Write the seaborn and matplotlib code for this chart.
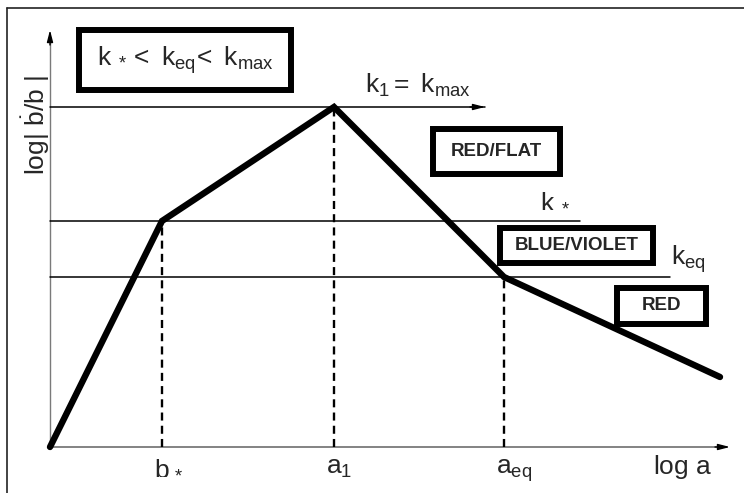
"""
Schematic: growth rate log|b'/b| against log a, with the three regimes
"""
import matplotlib
matplotlib.use("Agg")
import matplotlib.pyplot as plt
from matplotlib.patches import Rectangle
from matplotlib.lines import Line2D
import seaborn as sns

# broken line (arbitrary log units)
log_a = [0.0, 1.12, 2.84, 4.54, 6.70]
log_rate = [0.0, 2.26, 3.40, 1.70, 0.70]

# horizontal levels and where they stop
level_names = ["k_max", "k_star", "k_eq"]
level_values = [3.40, 2.26, 1.70]
level_ends = [4.35, 5.30, 6.20]

# break points marked on the x axis
tick_pos = [1.12, 2.84, 4.54]
tick_labels = [r"$\mathrm{b_{\,*}}$", r"$\mathrm{a_{1}}$", r"$\mathrm{a_{eq}}$"]

x_axis_end = 6.80
y_axis_end = 4.17

sns.set_style("white")
plt.rcParams["font.family"] = ["Liberation Sans", "DejaVu Sans"]
plt.rcParams["mathtext.fontset"] = "custom"
plt.rcParams["mathtext.rm"] = "Liberation Sans"
plt.rcParams["mathtext.it"] = "Liberation Sans"
plt.rcParams["mathtext.bf"] = "Liberation Sans:bold"

W, H = 744, 493
fig = plt.figure(figsize=(W / 100, H / 100), dpi=100)
ax = fig.add_axes([0, 0, 1, 1])
# origin of the sketch sits at pixel (50, 447), 100 px per unit
ax.set_xlim(-0.50, (W - 50) / 100)
ax.set_ylim(-(H - 447) / 100, 4.47)


def P(x, y):
    """pixel position -> data position (for text and boxes only)"""
    return (x - 50) / 100, (447 - y) / 100


# outer frame (only top and left edges show)
fig.add_artist(Line2D([7 / W, 7 / W], [0, 1 - 8 / H], color="#222222", lw=1.2))
fig.add_artist(Line2D([7 / W, 1], [1 - 8 / H, 1 - 8 / H], color="#222222", lw=1.2))

# axes with arrows
ax.plot([0, x_axis_end - 0.08], [0, 0], color="#7a7a7a", lw=1.3, zorder=1)
ax.plot([0, 0], [0, y_axis_end - 0.08], color="#7a7a7a", lw=1.0, zorder=1)
arrow = dict(arrowstyle="-|>,head_length=0.7,head_width=0.18", color="black", lw=1.0,
             shrinkA=0, shrinkB=0)
ax.annotate("", xy=(x_axis_end, 0), xytext=(x_axis_end - 0.15, 0), arrowprops=arrow)
ax.annotate("", xy=(0, y_axis_end), xytext=(0, y_axis_end - 0.15), arrowprops=arrow)

# horizontal levels
for name, val, end in zip(level_names, level_values, level_ends):
    ax.plot([0, end], [val, val], color="black", lw=1.1, zorder=1)
ax.annotate("", xy=(level_ends[0], level_values[0]), xytext=(level_ends[0] - 0.15, level_values[0]),
            arrowprops=arrow)

# dashed drop lines
for x, y in zip(log_a[1:4], log_rate[1:4]):
    ax.plot([x, x], [0, y], color="black", lw=1.7, linestyle=(0, (3.4, 2.2)), zorder=1)

# main curve
sns.lineplot(x=log_a, y=log_rate, ax=ax, color="black", lw=4.6, sort=False,
             solid_joinstyle="miter", zorder=2)
ax.axis("off")

# tick labels
for pos, lab in zip(tick_pos, tick_labels):
    ax.text(pos - 0.08, P(0, 474)[1], lab, fontsize=19, ha="left", va="baseline")
ax.text(*P(653, 474), r"$\mathrm{log\ a}$", fontsize=19, ha="left", va="baseline")

# y label
ax.text(*P(36, 125), r"$\mathrm{log|\ \dot{b}/b\ |}$", fontsize=19, rotation=90,
        ha="center", va="center")

# level labels
ax.text(*P(365, 93), r"$\mathrm{k_{1}=\ k_{max}}$", fontsize=19, ha="left", va="baseline")
ax.text(*P(540, 207), r"$\mathrm{k_{\ *}}$", fontsize=19, ha="left", va="baseline")
ax.text(*P(671, 265), r"$\mathrm{k_{eq}}$", fontsize=19, ha="left", va="baseline")


def box(x0, y0, x1, y1, text, size, bold=True):
    # pixel box (outer edge), 6 px border
    bx, by = P(x0 + 3, y1 - 3)
    ex, ey = P(x1 - 3, y0 + 3)
    ax.add_patch(Rectangle((bx, by), ex - bx, ey - by, facecolor="white",
                           edgecolor="black", lw=4.3, zorder=4))
    cx, cy = P((x0 + x1) / 2, (y0 + y1) / 2)
    ax.text(cx, cy, text, fontsize=size, fontweight="bold" if bold else "normal",
            ha="center", va="center", zorder=5)


box(76, 27, 294, 93, r"$\mathrm{k_{\ *}<\ k_{eq}\!<\ k_{max}}$", 19, bold=False)
box(430, 126, 563, 177, "RED/FLAT", 13.5)
box(497, 225, 656, 266, "BLUE/VIOLET", 13.5)
box(614, 285, 709, 327, "RED", 13.5)

fig.savefig("out.png", dpi=100)
